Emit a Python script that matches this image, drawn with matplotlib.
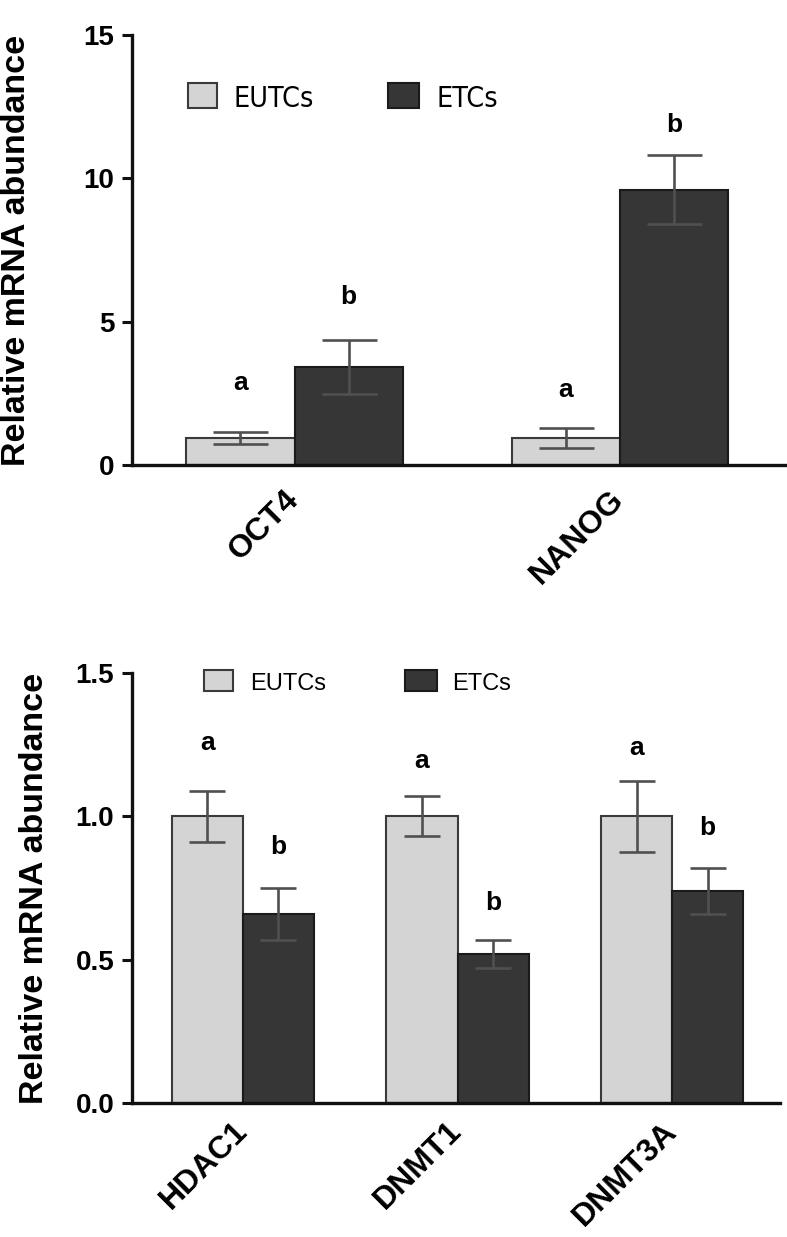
import matplotlib
matplotlib.use("Agg")
import matplotlib.pyplot as plt
from matplotlib.patches import Rectangle
import numpy as np

# ---------------- data ----------------
genes_top = ["OCT4", "NANOG"]
eutc_top = [0.95, 0.95]
eutc_top_err = [0.21, 0.35]
etc_top = [3.42, 9.6]
etc_top_err = [0.94, 1.2]
eutc_top_letters = ["a", "a"]
etc_top_letters = ["b", "b"]
eutc_top_letter_y = [2.86, 2.62]
etc_top_letter_y = [5.86, 11.86]

genes_bot = ["HDAC1", "DNMT1", "DNMT3A"]
eutc_bot = [1.0, 1.0, 1.0]
eutc_bot_err = [0.09, 0.07, 0.125]
etc_bot = [0.66, 0.52, 0.74]
etc_bot_err = [0.09, 0.05, 0.08]
eutc_bot_letters = ["a", "a", "a"]
etc_bot_letters = ["b", "b", "b"]
eutc_bot_letter_y = [1.256, 1.193, 1.238]
etc_bot_letter_y = [0.893, 0.698, 0.959]

series_names = ["EUTCs", "ETCs"]

# ---------------- styles ----------------
LIGHT = "#d4d4d4"
DARK = "#363636"
LIGHT_EDGE = "#3a3a3a"
DARK_EDGE = "#1a1a1a"
ERR_COLOR = "#505050"
FONT = "Liberation Sans"

plt.rcParams["font.family"] = [FONT, "DejaVu Sans"]

fig = plt.figure(figsize=(7.87, 12.37), dpi=100)

W, H = 787.0, 1237.0
ax1 = fig.add_axes([132 / W, 1 - 465 / H, (785 - 132) / W, 430 / H])
ax2 = fig.add_axes([132 / W, 1 - 1103 / H, (780 - 132) / W, 430 / H])


def draw_panel(ax, genes, e_vals, e_err, t_vals, t_err, e_let, t_let, e_ly, t_ly,
               width, capsize, ylim, yticks, yticklabels, xlim, xpad):
    x = np.arange(len(genes))
    xe = x - width / 2
    xt = x + width / 2
    ax.bar(xe, e_vals, width, color=LIGHT, edgecolor=LIGHT_EDGE, linewidth=1.5, zorder=2)
    ax.bar(xt, t_vals, width, color=DARK, edgecolor=DARK_EDGE, linewidth=1.5, zorder=2)
    ax.errorbar(xe, e_vals, yerr=e_err, fmt="none", ecolor=ERR_COLOR,
                elinewidth=1.9, capsize=capsize, capthick=1.9, zorder=3)
    ax.errorbar(xt, t_vals, yerr=t_err, fmt="none", ecolor=ERR_COLOR,
                elinewidth=1.9, capsize=capsize, capthick=1.9, zorder=3)
    for xi, yi, s in zip(xe, e_ly, e_let):
        ax.text(xi, yi, s, ha="center", va="center", fontsize=19, fontweight="bold")
    for xi, yi, s in zip(xt, t_ly, t_let):
        ax.text(xi, yi, s, ha="center", va="center", fontsize=19, fontweight="bold")

    ax.set_xlim(*xlim)
    ax.set_ylim(*ylim)
    ax.set_yticks(yticks)
    ax.set_yticklabels(yticklabels, fontsize=20, fontweight="bold")
    ax.set_xticks(x)
    ax.set_xticklabels(genes, rotation=45, ha="right", va="center",
                       rotation_mode="anchor", fontsize=23, fontweight="bold")
    for sp in ["top", "right"]:
        ax.spines[sp].set_visible(False)
    for sp in ["left", "bottom"]:
        ax.spines[sp].set_linewidth(2.4)
        ax.spines[sp].set_color("#111111")
    ax.tick_params(axis="y", length=7.2, width=2.2, pad=5.5, color="#111111")
    ax.tick_params(axis="x", length=0, pad=xpad)
    ax.set_ylabel("Relative mRNA abundance", fontsize=24.5, fontweight="bold")


draw_panel(ax1, genes_top, eutc_top, eutc_top_err, etc_top, etc_top_err,
           eutc_top_letters, etc_top_letters, eutc_top_letter_y, etc_top_letter_y,
           width=0.333, capsize=19.8, ylim=(0, 15), yticks=[0, 5, 10, 15],
           yticklabels=["0", "5", "10", "15"], xlim=(-0.5, 1.508), xpad=22)
draw_panel(ax2, genes_bot, eutc_bot, eutc_bot_err, etc_bot, etc_bot_err,
           eutc_bot_letters, etc_bot_letters, eutc_bot_letter_y, etc_bot_letter_y,
           width=0.331, capsize=13.3, ylim=(0, 1.5), yticks=[0, 0.5, 1.0, 1.5],
           yticklabels=["0.0", "0.5", "1.0", "1.5"], xlim=(-0.517, 2.503), xpad=17)

ax1.yaxis.set_label_coords(-0.153, 0.5)
ax2.yaxis.set_label_coords(-0.127, 0.5)

# ---------------- legends (drawn manually) ----------------
def legend_item(ax, x, y, w, h, fc, ec, tx, ty, label, fontsize, family, stretch="normal"):
    ax.add_patch(Rectangle((x, y), w, h, transform=ax.transAxes, facecolor=fc,
                           edgecolor=ec, linewidth=1.5, clip_on=False, zorder=4))
    ax.text(tx, ty, label, transform=ax.transAxes, ha="left", va="baseline",
            fontsize=fontsize, family=family, fontstretch=stretch)

cond = ["DejaVu Sans"]
legend_item(ax1, 0.0858, 0.830, 0.0444, 0.0581, LIGHT, LIGHT_EDGE,
            0.1547, 0.8326, series_names[0], 20.5, cond, "condensed")
legend_item(ax1, 0.392, 0.830, 0.0475, 0.0581, DARK, DARK_EDGE,
            0.467, 0.8326, series_names[1], 20.5, cond, "condensed")

legend_item(ax2, 0.111, 0.958, 0.0448, 0.0488, LIGHT, LIGHT_EDGE,
            0.182, 0.9616, series_names[0], 17, [FONT, "DejaVu Sans"])
legend_item(ax2, 0.4213, 0.958, 0.0494, 0.0488, DARK, DARK_EDGE,
            0.4938, 0.9616, series_names[1], 17, [FONT, "DejaVu Sans"])

fig.savefig("out.png", dpi=100)
